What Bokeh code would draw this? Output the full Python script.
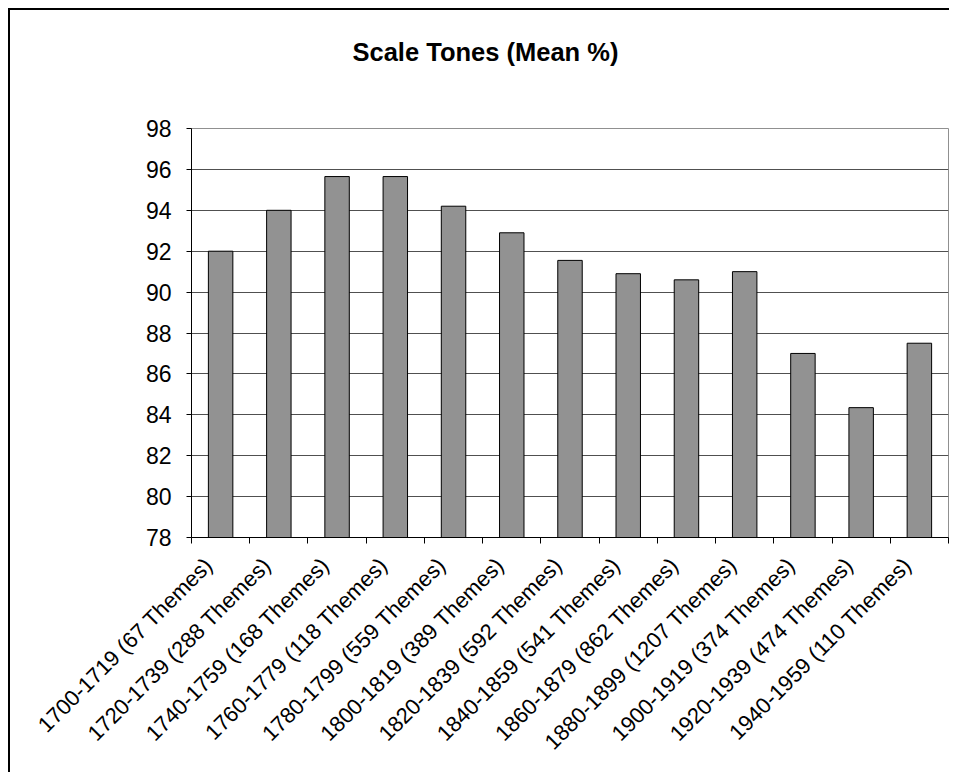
import numpy as np
from bokeh.plotting import figure
from bokeh.models import FixedTicker, Range1d, Title
from bokeh.embed import file_html
from bokeh.resources import INLINE

categories = ["1700-1719 (67 Themes)", "1720-1739 (288 Themes)", "1740-1759 (168 Themes)",
              "1760-1779 (118 Themes)", "1780-1799 (559 Themes)", "1800-1819 (389 Themes)",
              "1820-1839 (592 Themes)", "1840-1859 (541 Themes)", "1860-1879 (862 Themes)",
              "1880-1899 (1207 Themes)", "1900-1919 (374 Themes)", "1920-1939 (474 Themes)",
              "1940-1959 (110 Themes)"]
values = [92.0, 94.0, 95.65, 95.65, 94.2, 92.9, 91.55, 90.9, 90.6, 91.0, 87.0, 84.35, 87.5]
y_ticks = [78, 80, 82, 84, 86, 88, 90, 92, 94, 96, 98]
title_text = "Scale Tones (Mean %)"

n = len(categories)
centers = list(np.arange(n) + 0.5)
label_pos = [c - 0.205 for c in centers]
bounds = list(range(n + 1))

FONT = "Liberation Sans"

p = figure(width=941, height=764, output_backend="svg", toolbar_location=None,
           x_range=Range1d(0, n), y_range=Range1d(78, 98),
           min_border_left=181, min_border_right=3, min_border_top=118, min_border_bottom=237,
           title=title_text)
p.styles = {"box-shadow": "-2px -2px 0px 0px black",
            "margin-left": "10px", "margin-top": "10px"}

# spacer panel between the title and the plot frame
spacer = Title(text=" ", text_font_size="1px", standoff=60)
p.add_layout(spacer, "above")

p.title.text_font = FONT
p.title.text_font_size = "25.5px"
p.title.text_font_style = "bold"
p.title.text_color = "black"
p.title.align = "left"
p.title.offset = 161
p.title.standoff = 0

p.vbar(x=centers, top=values, bottom=78, width=0.42,
       fill_color="#929292", line_color="black", line_width=1)

p.outline_line_color = "#909090"
p.outline_line_width = 1
p.background_fill_color = "white"
p.border_fill_color = "white"

p.xgrid.visible = False
p.ygrid.grid_line_color = "#505050"
p.ygrid.grid_line_width = 1
p.ygrid.ticker = FixedTicker(ticks=y_ticks)

p.yaxis.ticker = FixedTicker(ticks=y_ticks)
p.yaxis.axis_line_color = "black"
p.yaxis.major_tick_in = 0
p.yaxis.major_tick_out = 5
p.yaxis.minor_tick_line_color = None
p.yaxis.major_label_text_font = FONT
p.yaxis.major_label_text_font_size = "23px"
p.yaxis.major_label_text_color = "black"
p.yaxis.major_label_standoff = 15

p.xaxis.ticker = FixedTicker(ticks=label_pos, minor_ticks=bounds)
p.xaxis.major_label_overrides = {c: lab for c, lab in zip(label_pos, categories)}
p.xaxis.major_tick_in = 0
p.xaxis.major_tick_out = 0
p.xaxis.minor_tick_in = 0
p.xaxis.minor_tick_out = 6
p.xaxis.minor_tick_line_color = "black"
p.xaxis.axis_line_color = "black"
p.xaxis.major_label_orientation = np.pi / 4
p.xaxis.major_label_text_font = FONT
p.xaxis.major_label_text_font_size = "22px"
p.xaxis.major_label_text_color = "black"
p.xaxis.major_label_standoff = 18

open("out.html", "w").write(file_html(p, INLINE))
